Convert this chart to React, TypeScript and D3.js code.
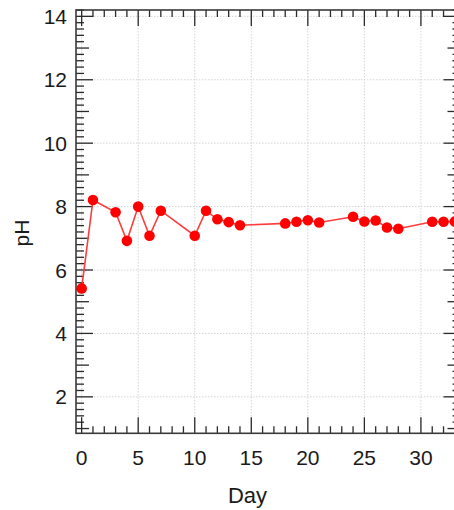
import React from "react";
import * as d3 from "d3";

const days = [0, 1, 3, 4, 5, 6, 7, 10, 11, 12, 13, 14, 18, 19, 20, 21, 24, 25, 26, 27, 28, 31, 32, 33];
const phValues = [5.42, 8.21, 7.82, 6.92, 8.0, 7.08, 7.87, 7.08, 7.87, 7.6, 7.51, 7.41, 7.47, 7.52, 7.57, 7.5, 7.68, 7.53, 7.56, 7.34, 7.3, 7.52, 7.52, 7.53];
const xTickLabels = [0, 5, 10, 15, 20, 25, 30];
const yTickLabels = [2, 4, 6, 8, 10, 12, 14];

const W = 454;
const H = 510;
const left = 76, right = 460.5, top = 10, bottom = 433.3;

export default function App() {
  const x = d3.scaleLinear().domain([-0.5, 33.5]).range([left, right]);
  const y = d3.scaleLinear().domain([0.85, 14.2]).range([bottom, top]);
  const line = d3.line<number>().x((_, i) => x(days[i])).y((d) => y(d));

  const xMinor = d3.range(0, 34, 1);
  const yMinor = d3.range(10, 143, 2).map((v) => v / 10);
  const tickColor = "#2a2a2a";
  const font = "'Liberation Sans', Arial, sans-serif";

  return (
    <svg width={W} height={H} style={{ position: "absolute", left: 0, top: 0 }} fontFamily={font}>
      <rect x={0} y={0} width={W} height={H} fill="#fff" />
      {/* grid */}
      {xTickLabels.map((t) => (
        <line key={"gx" + t} x1={x(t)} x2={x(t)} y1={top} y2={bottom} stroke="#d4d4d4" strokeWidth={1} strokeDasharray="1.5,1.5" />
      ))}
      {yTickLabels.map((t) => (
        <line key={"gy" + t} x1={left} x2={right} y1={y(t)} y2={y(t)} stroke="#d4d4d4" strokeWidth={1} strokeDasharray="1.5,1.5" />
      ))}
      {/* x ticks bottom and top */}
      {xMinor.map((t) => {
        const len = t % 5 === 0 ? 16 : 7;
        return (
          <g key={"xt" + t}>
            <line x1={x(t)} x2={x(t)} y1={bottom} y2={bottom - len} stroke={tickColor} strokeWidth={1.3} />
            <line x1={x(t)} x2={x(t)} y1={top} y2={top + len} stroke={tickColor} strokeWidth={1.3} />
          </g>
        );
      })}
      {/* y ticks left and right */}
      {yMinor.map((t) => {
        const r = Math.round(t * 10);
        const len = r % 20 === 0 ? 17 : r % 10 === 0 ? 13 : 8;
        return (
          <g key={"yt" + r}>
            <line x1={left} x2={left + len} y1={y(t)} y2={y(t)} stroke={tickColor} strokeWidth={1.3} />
            <line x1={right} x2={right - len} y1={y(t)} y2={y(t)} stroke={tickColor} strokeWidth={1.3} />
          </g>
        );
      })}
      {/* frame */}
      <rect x={left} y={top} width={right - left} height={bottom - top} fill="none" stroke="#3a3a3a" strokeWidth={1.6} />
      {/* data */}
      <path d={line(phValues) || ""} fill="none" stroke="#ff3c3c" strokeWidth={1.6} />
      {phValues.map((v, i) => (
        <circle key={"p" + i} cx={x(days[i])} cy={y(v)} r={5.3} fill="#ff0000" />
      ))}
      {/* tick labels */}
      {xTickLabels.map((t) => (
        <text key={"xl" + t} x={x(t)} y={465} textAnchor="middle" fontSize={21} fill="#1a1a1a">
          {t}
        </text>
      ))}
      {yTickLabels.map((t) => (
        <text key={"yl" + t} x={67} y={y(t)} dy="0.36em" textAnchor="end" fontSize={21} fill="#1a1a1a">
          {t}
        </text>
      ))}
      {/* axis titles */}
      <text x={247.5} y={502.5} textAnchor="middle" fontSize={22} fill="#1a1a1a">
        Day
      </text>
      <text transform={`translate(29,233) rotate(-90)`} textAnchor="middle" fontSize={21} fill="#1a1a1a">
        pH
      </text>
    </svg>
  );
}
